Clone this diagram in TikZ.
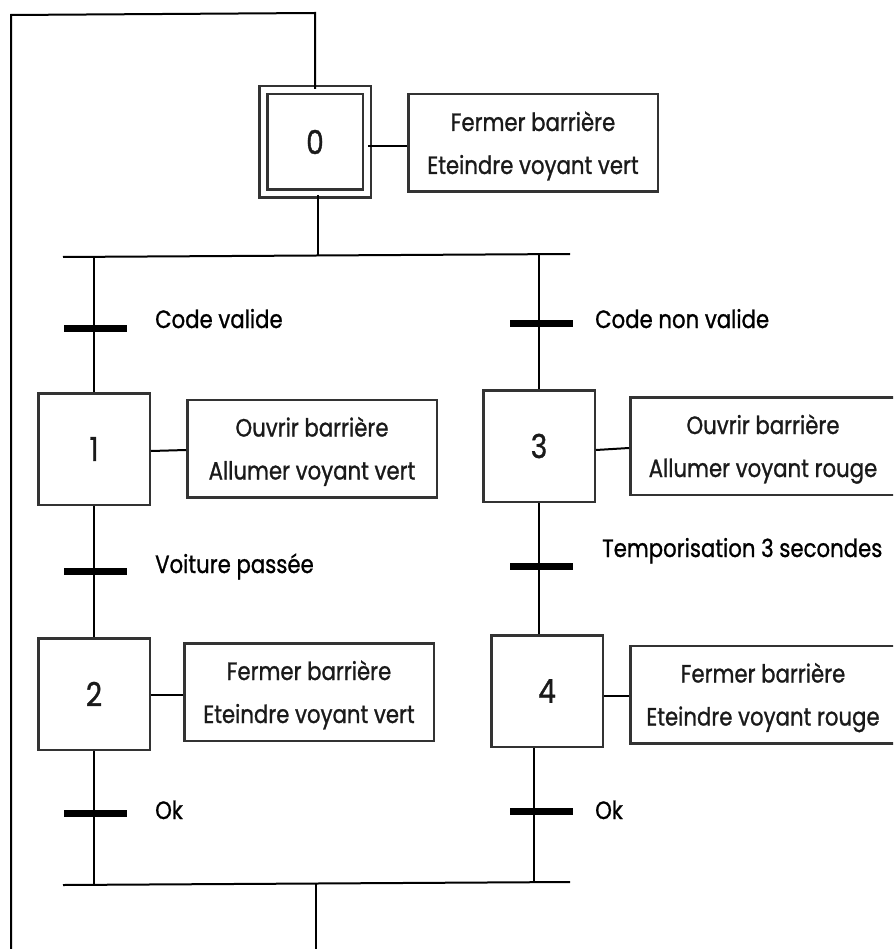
\documentclass[tikz,border=0pt]{standalone}
\usepackage{fontspec}
\setmainfont{Poppins}[FakeStretch=0.85, FakeBold=1]
\usetikzlibrary{calc}
\definecolor{boxc}{HTML}{333333}
\definecolor{txtc}{HTML}{1A1A1A}
\begin{document}
\begin{tikzpicture}[x=1pt,y=-1pt,
  stepbox/.style={draw=boxc, line width=2.5pt, fill=white, minimum width=111.5pt,
    minimum height=111.5pt, inner sep=0pt, text=txtc, font=\fontsize{33}{36}\selectfont},
  initbox/.style={stepbox, double=white, double distance=5.5pt,
    minimum width=103.5pt, minimum height=103.5pt},
  actbox/.style={draw=boxc, line width=2.5pt, fill=white, minimum height=97.5pt, inner sep=0pt},
  atext/.style={anchor=base, text=txtc, font=\fontsize{25}{30}\selectfont, inner sep=0pt},
  lbl/.style={anchor=base west, text=black, font=\fontsize{25}{30}\selectfont, inner sep=0pt},
  tbar/.style={fill=black, minimum width=63pt, minimum height=7pt, inner sep=0pt},
  link/.style={line width=2pt, draw=black},
]
\useasboundingbox (0,0) rectangle (893,949);
\clip (0,0) rectangle (893,949);

% ---- coordinates of junctions
\coordinate (tl) at (11,15);
\coordinate (tr) at (315,13);
\coordinate (bl) at (11,955);
\coordinate (dl) at (63,257);
\coordinate (dr) at (570,254);
\coordinate (d0) at (318,256);
\coordinate (jl) at (94,257);
\coordinate (jr) at (539,255);
\coordinate (cl) at (63,885);
\coordinate (cr) at (570,882);
\coordinate (cm) at (316,884);
\coordinate (cb) at (316,955);
\coordinate (kl) at (94,884);
\coordinate (kr) at (534,882);

% ---- steps
\node[initbox] (s0) at (315,142) {0};
\node[stepbox] (s1) at (94,449) {1};
\node[stepbox] (s2) at (94,694) {2};
\node[stepbox] (s3) at (539,446) {3};
\node[stepbox] (s4) at (547,691) {4};

% ---- vertical links and rails
\draw[link] (bl) -- (tl) -- (tr) -- (s0.north);
\draw[link] ($(s0.south)+(3,0)$) -- (d0);
\draw[link] (dl) -- (dr);
\draw[link] (jl) -- (s1.north);
\draw[link] (s1.south) -- (s2.north);
\draw[link] (s2.south) -- (kl);
\draw[link] (jr) -- (s3.north);
\draw[link] (s3.south) -- ($(s4.north)+(-8,0)$);
\draw[link] ($(s4.south)+(-13,0)$) -- (kr);
\draw[link] (cl) -- (cr);
\draw[link] (cm) -- (cb);

% ---- transitions
\node[tbar] (t1) at (95.5,328) {};
\node[tbar] (t2) at (95.5,571) {};
\node[tbar] (t3) at (95.5,813) {};
\node[tbar] (t4) at (541,323) {};
\node[tbar] (t5) at (541,566) {};
\node[tbar] (t6) at (541,811) {};
\node[lbl] (l1) at (155,328) {Code valide};
\node[lbl] (l2) at (155,573) {Voiture passée};
\node[lbl] (l3) at (155,819) {Ok};
\node[lbl] (l4) at (595,328) {Code non valide};
\node[lbl] (l5) at (602,557) {Temporisation 3 secondes};
\node[lbl] (l6) at (595,819) {Ok};

% ---- actions
\node[actbox, minimum width=249.5pt] (a0) at (533,143) {};
\node[actbox, minimum width=249.5pt] (a1) at (312,448.5) {};
\node[actbox, minimum width=249.5pt] (a2) at (309,692) {};
\node[actbox, minimum width=265.5pt] (a3) at (763,446) {};
\node[actbox, minimum width=265.5pt] (a4) at (763,694.5) {};
\node[atext] (a0a) at ($(a0.center)+(0,-12)$) {Fermer barrière};
\node[atext] (a0b) at ($(a0.center)+(0,31)$) {Eteindre voyant vert};
\node[atext] (a1a) at ($(a1.center)+(0,-12)$) {Ouvrir barrière};
\node[atext] (a1b) at ($(a1.center)+(0,31)$) {Allumer voyant vert};
\node[atext] (a2a) at ($(a2.center)+(0,-12)$) {Fermer barrière};
\node[atext] (a2b) at ($(a2.center)+(0,31)$) {Eteindre voyant vert};
\node[atext] (a3a) at ($(a3.center)+(0,-12)$) {Ouvrir barrière};
\node[atext] (a3b) at ($(a3.center)+(0,31)$) {Allumer voyant rouge};
\node[atext] (a4a) at ($(a4.center)+(0,-12)$) {Fermer barrière};
\node[atext] (a4b) at ($(a4.center)+(0,31)$) {Eteindre voyant rouge};

% ---- step to action links
\draw[link] ($(s0.east)+(0,4)$) -- ($(a0.west)+(0,3)$);
\draw[link] ($(s1.east)+(0,2)$) -- ($(a1.west)+(0,1.5)$);
\draw[link] ($(s2.east)+(0,1)$) -- ($(a2.west)+(0,3)$);
\draw[link] ($(s3.east)+(0,4)$) -- ($(a3.west)+(0,2)$);
\draw[link] ($(s4.east)+(0,5)$) -- ($(a4.west)+(0,1.5)$);
\end{tikzpicture}
\end{document}
